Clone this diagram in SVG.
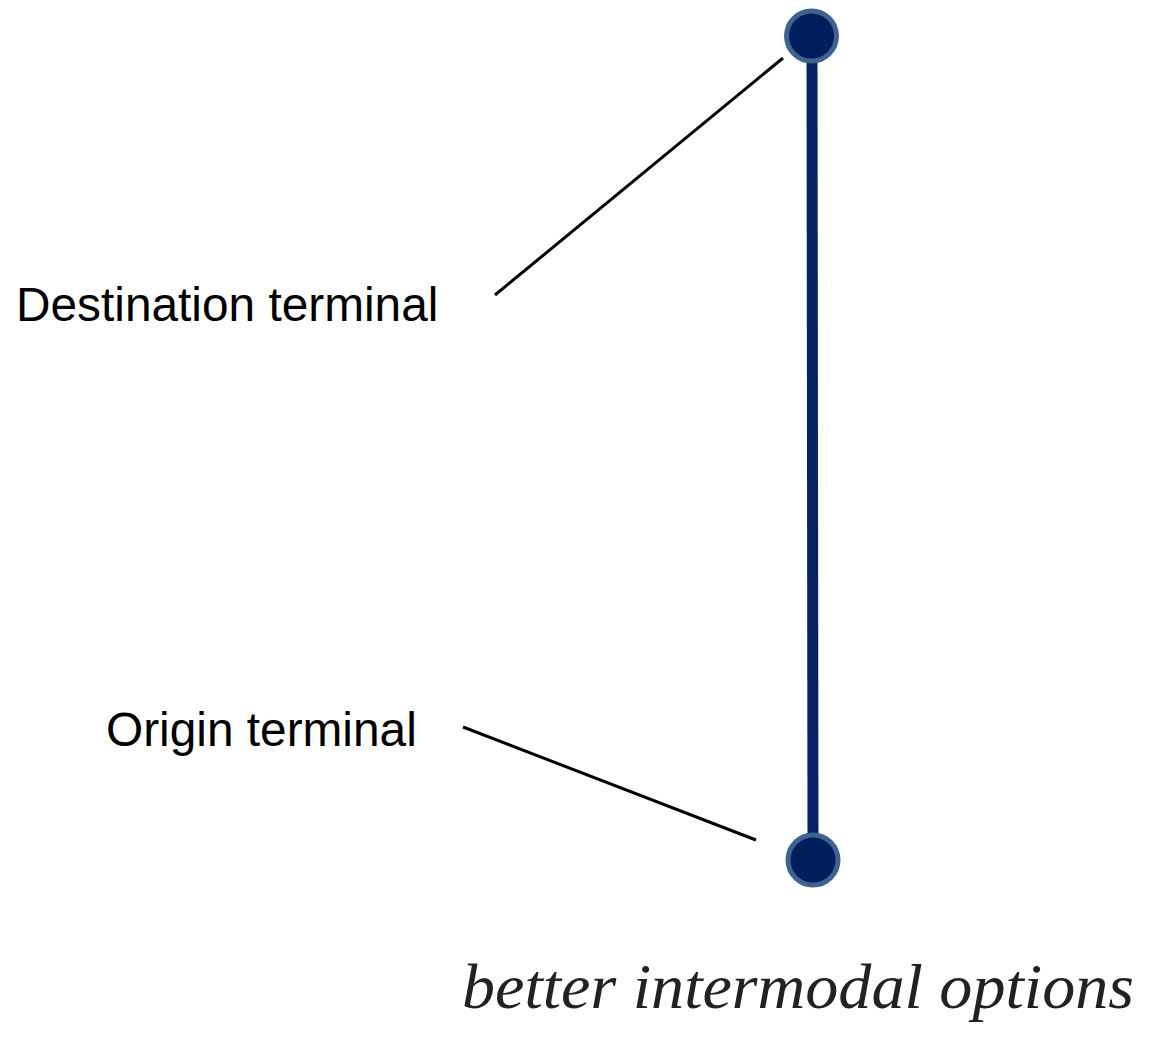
<svg xmlns="http://www.w3.org/2000/svg" width="1171" height="1048" viewBox="0 0 1171 1048">
<style>
.lbl{font-family:"Liberation Sans",Arial,sans-serif;font-size:47.8px;fill:#000}
.lead{stroke:#000;stroke-width:3;fill:none}
.term{fill:#001d5c;stroke:#3f6391;stroke-width:5}
.hand{font-family:"Liberation Serif","DejaVu Serif",serif;font-style:italic;font-size:64px;fill:#222}
</style>
<rect width="1171" height="1048" fill="#fff"/>
<g id="connectors">
<line x1="812" y1="50" x2="813" y2="850" stroke="#062463" stroke-width="11"/>
<line class="lead" x1="495" y1="295" x2="783" y2="58"/>
<line class="lead" x1="463" y1="727" x2="756" y2="840"/>
</g>
<g id="destination"><circle class="term" cx="811.5" cy="36" r="25"/></g>
<g id="origin"><circle class="term" cx="813" cy="860" r="25"/></g>
<g id="label-destination"><text class="lbl" x="16" y="321">Destination terminal</text></g>
<g id="label-origin"><text class="lbl" x="106" y="746">Origin terminal</text></g>
<g id="tagline"><text class="hand" x="462" y="1008" textLength="672" lengthAdjust="spacingAndGlyphs">better intermodal options</text></g>
</svg>
